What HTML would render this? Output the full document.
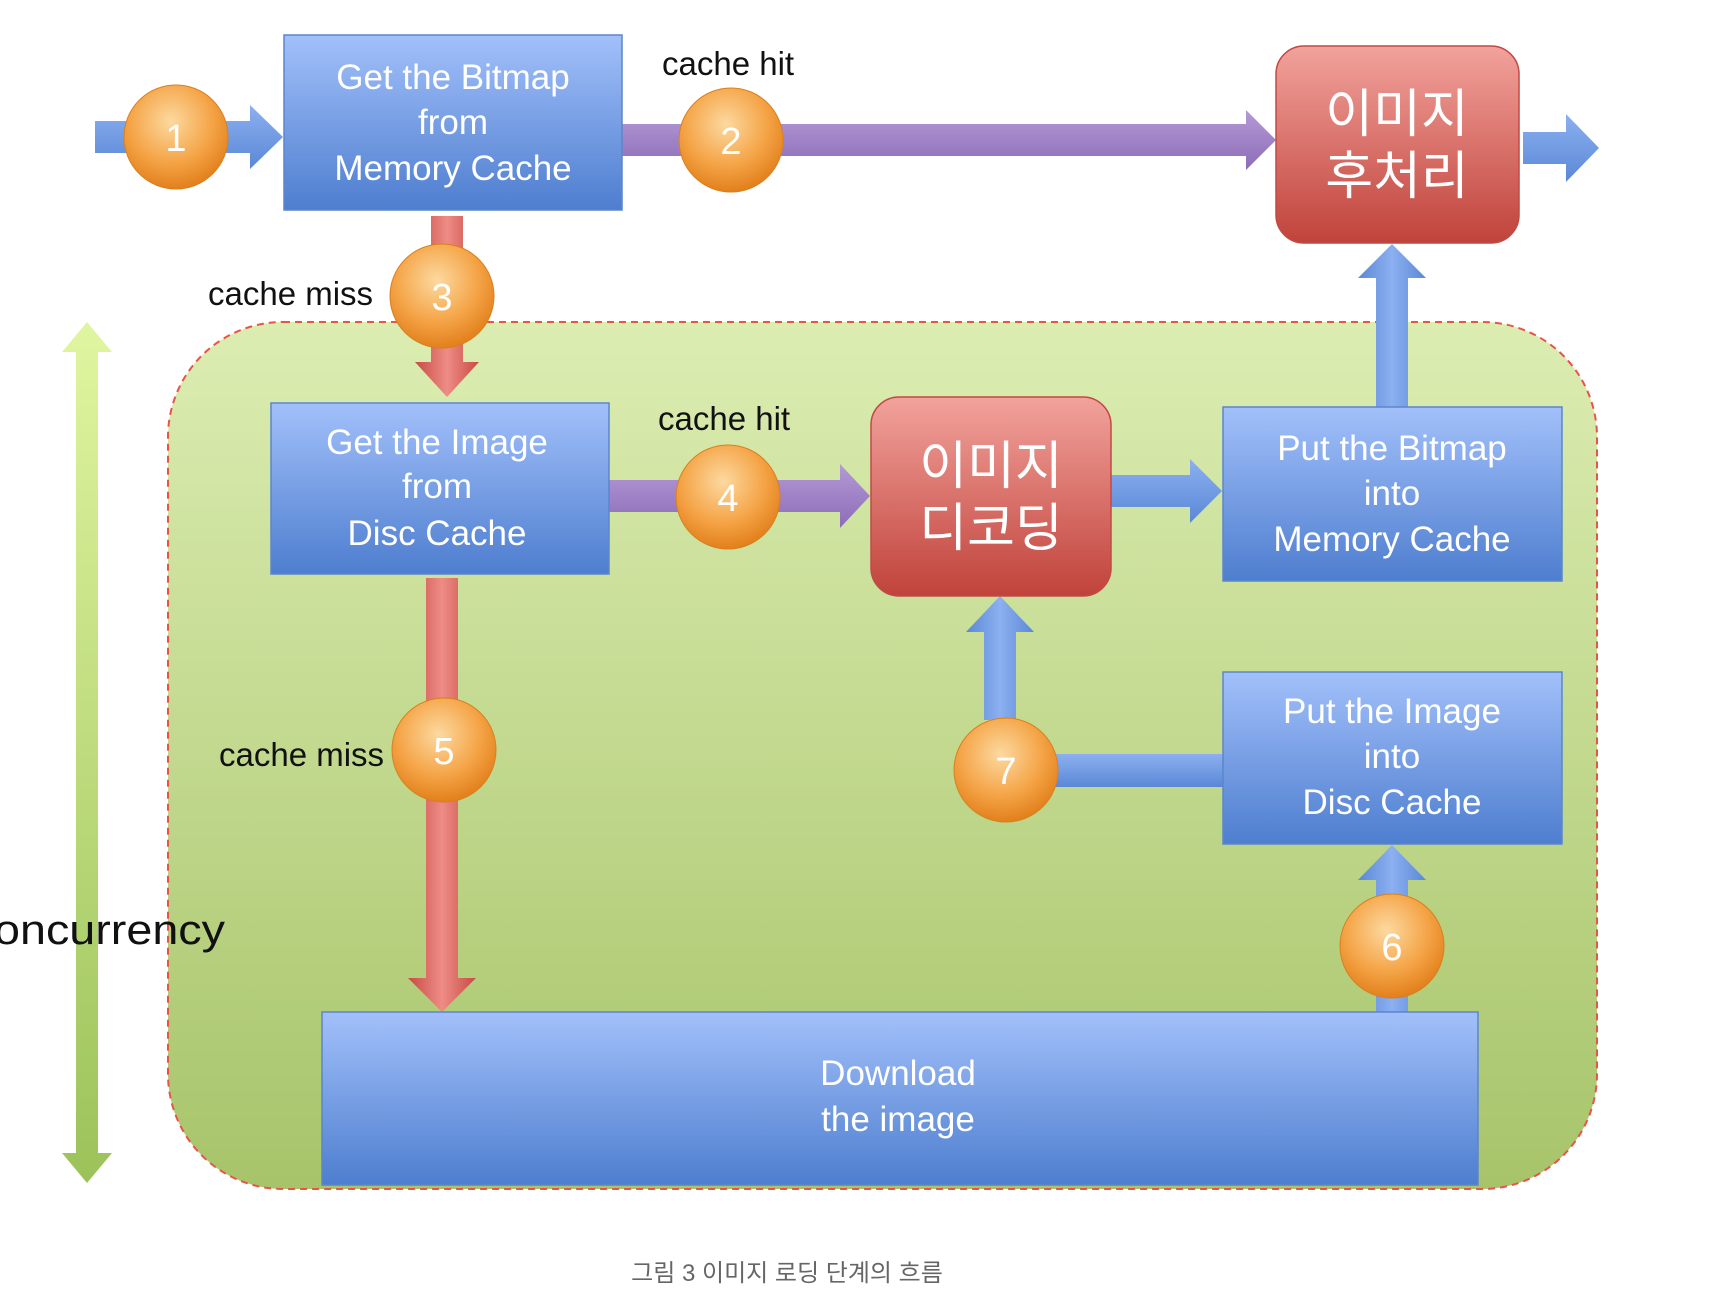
<!DOCTYPE html>
<html><head><meta charset="utf-8"><style>
html,body{margin:0;padding:0;background:#fff;}
svg text{font-family:"Liberation Sans","Noto Sans CJK KR",sans-serif;}
</style></head><body>
<svg width="1712" height="1310" viewBox="0 0 1712 1310" xmlns="http://www.w3.org/2000/svg">
<defs>
<linearGradient id="blue" x1="0" y1="0" x2="0" y2="1"><stop offset="0" stop-color="#a2c0fa"/><stop offset="1" stop-color="#4e7ecf"/></linearGradient>
<linearGradient id="red" x1="0" y1="0" x2="0" y2="1"><stop offset="0" stop-color="#f2a29c"/><stop offset="1" stop-color="#c0433b"/></linearGradient>
<linearGradient id="green" x1="0" y1="0" x2="0" y2="1"><stop offset="0" stop-color="#dcedb2"/><stop offset="1" stop-color="#a7c46a"/></linearGradient>
<linearGradient id="gar" x1="0" y1="0" x2="0" y2="1"><stop offset="0" stop-color="#e0f5a0"/><stop offset="1" stop-color="#9cc25a"/></linearGradient>
<linearGradient id="purple" x1="0" y1="0" x2="0" y2="1"><stop offset="0" stop-color="#b49ad6"/><stop offset="1" stop-color="#8c6cb8"/></linearGradient>
<linearGradient id="redar" x1="0" y1="0" x2="1" y2="0"><stop offset="0" stop-color="#c94a44"/><stop offset="0.5" stop-color="#ee8c86"/><stop offset="1" stop-color="#c94a44"/></linearGradient>
<linearGradient id="bluear" x1="0" y1="0" x2="0" y2="1"><stop offset="0" stop-color="#8cb0f0"/><stop offset="1" stop-color="#5a88d6"/></linearGradient>
<linearGradient id="bluearv" x1="0" y1="0" x2="1" y2="0"><stop offset="0" stop-color="#5a88d6"/><stop offset="0.5" stop-color="#8cb0f0"/><stop offset="1" stop-color="#5a88d6"/></linearGradient>
<radialGradient id="orange" cx="0.45" cy="0.35" r="0.65"><stop offset="0" stop-color="#fcd9a0"/><stop offset="0.6" stop-color="#f5a548"/><stop offset="1" stop-color="#e2801c"/></radialGradient>
</defs>

<rect x="168" y="322" width="1429" height="867" rx="115" fill="url(#green)" stroke="#e8544a" stroke-width="2" stroke-dasharray="7,5"/>

<polygon points="87,322 112,352 98,352 98,1153 112,1153 87,1183 62,1153 76,1153 76,352 62,352" fill="url(#gar)"/>
<text x="-6" y="944" font-size="42" fill="#111" textLength="231" lengthAdjust="spacingAndGlyphs">oncurrency</text>

<polygon points="95,121 250,121 250,105 283,137 250,169 250,153 95,153" fill="url(#bluear)"/>
<polygon points="622,124 1246,124 1246,110 1276,140 1246,170 1246,156 622,156" fill="url(#purple)"/>
<polygon points="1523,132 1566,132 1566,114 1599,148 1566,182 1566,164 1523,164" fill="url(#bluear)"/>
<polygon points="431,216 463,216 463,362 479,362 447,397 415,362 431,362" fill="url(#redar)"/>
<polygon points="609,480 840,480 840,464 870,496 840,528 840,512 609,512" fill="url(#purple)"/>
<polygon points="1111,475 1190,475 1190,459 1222,491 1190,523 1190,507 1111,507" fill="url(#bluear)"/>
<polygon points="1376,407 1376,278 1358,278 1392,244 1426,278 1408,278 1408,407" fill="url(#bluearv)"/>
<polygon points="426,578 458,578 458,978 476,978 442,1012 408,978 426,978" fill="url(#redar)"/>
<polygon points="984,720 984,632 966,632 1000,596 1034,632 1016,632 1016,720" fill="url(#bluearv)"/>
<rect x="1040" y="754" width="185" height="33" fill="url(#bluear)"/>
<polygon points="1376,1012 1376,880 1358,880 1392,845 1426,880 1408,880 1408,1012" fill="url(#bluearv)"/>

<g font-size="35" fill="#fff" text-anchor="middle">
<rect x="284" y="35" width="338" height="175" fill="url(#blue)" stroke="#5b86cc" stroke-width="1.5"/>
<text x="453" y="89">Get the Bitmap</text><text x="453" y="134">from</text><text x="453" y="180">Memory Cache</text>

<rect x="271" y="403" width="338" height="171" fill="url(#blue)" stroke="#5b86cc" stroke-width="1.5"/>
<text x="437" y="454">Get the Image</text><text x="437" y="498">from</text><text x="437" y="545">Disc Cache</text>

<rect x="1223" y="407" width="339" height="174" fill="url(#blue)" stroke="#5b86cc" stroke-width="1.5"/>
<text x="1392" y="460">Put the Bitmap</text><text x="1392" y="505">into</text><text x="1392" y="551">Memory Cache</text>

<rect x="1223" y="672" width="339" height="172" fill="url(#blue)" stroke="#5b86cc" stroke-width="1.5"/>
<text x="1392" y="723">Put the Image</text><text x="1392" y="768">into</text><text x="1392" y="814">Disc Cache</text>

<rect x="322" y="1012" width="1156" height="173" fill="url(#blue)" stroke="#5b86cc" stroke-width="1.5"/>
<text x="898" y="1085">Download</text><text x="898" y="1131">the image</text>

<rect x="1276" y="46" width="243" height="197" rx="28" fill="url(#red)" stroke="#c24a44" stroke-width="1.5"/>
<text x="1397" y="132" font-size="52">이미지</text><text x="1397" y="194" font-size="52">후처리</text>

<rect x="871" y="397" width="240" height="199" rx="28" fill="url(#red)" stroke="#c24a44" stroke-width="1.5"/>
<text x="991" y="484" font-size="52">이미지</text><text x="991" y="546" font-size="52">디코딩</text>
</g>

<g font-size="33" fill="#111">
<text x="662" y="75">cache hit</text>
<text x="208" y="305">cache miss</text>
<text x="658" y="430">cache hit</text>
<text x="219" y="766">cache miss</text>
</g>

<g font-size="38" fill="#fff" text-anchor="middle">
<circle cx="176" cy="137" r="52" fill="url(#orange)" stroke="#d9801e" stroke-width="1"/><text x="176" y="151">1</text>
<circle cx="731" cy="140" r="52" fill="url(#orange)" stroke="#d9801e" stroke-width="1"/><text x="731" y="154">2</text>
<circle cx="442" cy="296" r="52" fill="url(#orange)" stroke="#d9801e" stroke-width="1"/><text x="442" y="310">3</text>
<circle cx="728" cy="497" r="52" fill="url(#orange)" stroke="#d9801e" stroke-width="1"/><text x="728" y="511">4</text>
<circle cx="444" cy="750" r="52" fill="url(#orange)" stroke="#d9801e" stroke-width="1"/><text x="444" y="764">5</text>
<circle cx="1392" cy="946" r="52" fill="url(#orange)" stroke="#d9801e" stroke-width="1"/><text x="1392" y="960">6</text>
<circle cx="1006" cy="770" r="52" fill="url(#orange)" stroke="#d9801e" stroke-width="1"/><text x="1006" y="784">7</text>
</g>

<text x="787" y="1281" font-size="24" fill="#666" text-anchor="middle">그림 3 이미지 로딩 단계의 흐름</text>
</svg>
</body></html>
